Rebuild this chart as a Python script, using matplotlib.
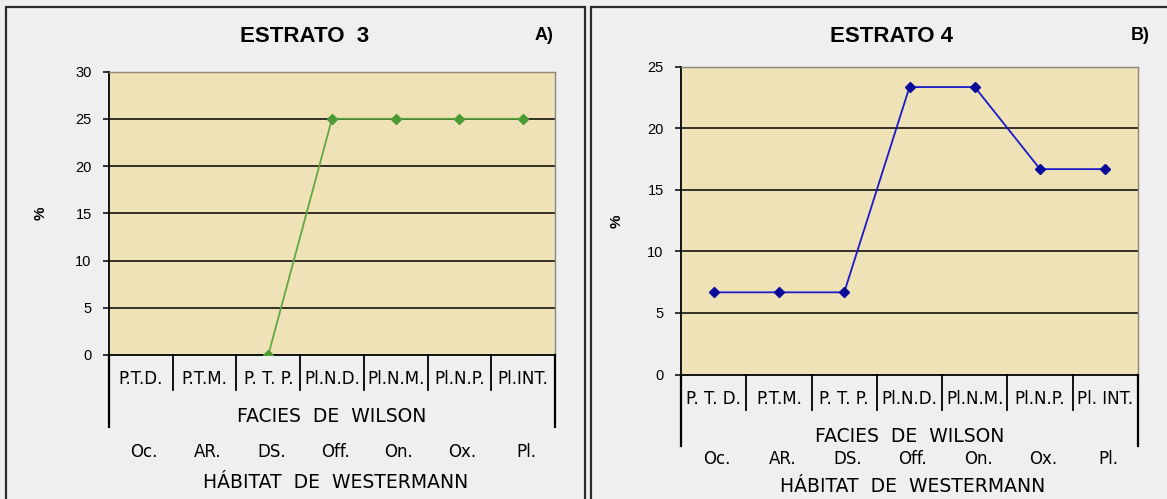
import numpy as np
import matplotlib
matplotlib.use("Agg")
import matplotlib.pyplot as plt
import matplotlib.transforms as mtransforms
from matplotlib.lines import Line2D
from matplotlib.patches import Rectangle

# data
facies_a = ["P.T.D.", "P.T.M.", "P. T. P.", "Pl.N.D.", "Pl.N.M.", "Pl.N.P.", "Pl.INT."]
facies_b = ["P. T. D.", "P.T.M.", "P. T. P.", "Pl.N.D.", "Pl.N.M.", "Pl.N.P.", "Pl. INT."]
habitat = ["Oc.", "AR.", "DS.", "Off.", "On.", "Ox.", "Pl."]
estrato3 = [np.nan, np.nan, 0, 25, 25, 25, 25]
estrato4 = [6.67, 6.67, 6.67, 23.33, 23.33, 16.67, 16.67]
yticks_a = [0, 5, 10, 15, 20, 25, 30]
yticks_b = [0, 5, 10, 15, 20, 25]

W, H = 1167, 499
BG = "#EFEFEF"
FACE = "#EFE2B6"

fig = plt.figure(figsize=(W / 100, H / 100), dpi=100, facecolor=BG)


def fx(x):
    return x / W


def fy(y):
    return 1 - y / H


def panel(box, ax_px, values, labels, yticks, color, mcolor, title, tag,
          title_x, tag_x, pct_xy, rows):
    # outer frame of the panel
    x0, y0, x1, y1 = box
    fig.add_artist(Rectangle((fx(x0), fy(y1)), fx(x1 - x0), (y1 - y0) / H,
                             transform=fig.transFigure, fill=False,
                             edgecolor="#2b2b2b", lw=1.6, clip_on=False))

    l, t, r, b = ax_px
    ax = fig.add_axes([fx(l), fy(b), fx(r - l), (b - t) / H])
    ax.set_facecolor(FACE)
    n = len(labels)
    x = np.arange(n)
    ax.set_xlim(-0.5, n - 0.5)
    ax.set_ylim(yticks[0], yticks[-1])
    ax.set_yticks(yticks)
    ax.set_xticks([])
    for yv in yticks[1:-1]:
        ax.axhline(yv, color="black", lw=1.1, zorder=1)
    ax.plot(x, values, color=color, lw=1.3, marker="D", ms=5,
            mfc=mcolor, mec=mcolor, zorder=3)

    for s in ("top", "right"):
        ax.spines[s].set_color("#8e867a")
        ax.spines[s].set_linewidth(1.0)
    for s in ("left", "bottom"):
        ax.spines[s].set_color("black")
        ax.spines[s].set_linewidth(1.3)
    ax.tick_params(axis="y", length=4, width=1.1, pad=8.5, labelsize=10.5)
    for lab in ax.get_yticklabels():
        lab.set_family(["Liberation Sans", "DejaVu Sans"])

    # category axis below the plot
    tr = mtransforms.blended_transform_factory(ax.transData, fig.transFigure)
    div_y, outer_y, lab_y, fac_y, hab_y, west_y = rows
    for xb in np.arange(n - 1) + 0.5:
        fig.add_artist(Line2D([xb, xb], [fy(b), fy(div_y)], transform=tr,
                              color="black", lw=1.3))
    for xb in (-0.5, n - 0.5):
        fig.add_artist(Line2D([xb, xb], [fy(b), fy(outer_y)], transform=tr,
                              color="black", lw=1.6))
    for xi, lab in zip(x, labels):
        fig.text(xi, fy(lab_y), lab, transform=tr, ha="center", va="center",
                 fontsize=12, family="DejaVu Sans")
    for xi, lab in zip(x, habitat):
        fig.text(xi + 0.05, fy(hab_y), lab, transform=tr, ha="center",
                 va="center", fontsize=12, family="DejaVu Sans")
    mid = (n - 1) / 2
    fig.text(mid, fy(fac_y), "FACIES  DE  WILSON", transform=tr,
             ha="center", va="center", fontsize=13.5, family="DejaVu Sans")
    fig.text(mid + 0.05, fy(west_y), "HÁBITAT  DE  WESTERMANN", transform=tr,
             ha="center", va="center", fontsize=13.5, family="DejaVu Sans")

    fig.text(fx(title_x), fy(37), title, ha="center", va="center",
             fontsize=16, fontweight="bold", family="Liberation Sans")
    fig.text(fx(tag_x), fy(36), tag, ha="center", va="center",
             fontsize=13, fontweight="bold", family="Liberation Sans")
    fig.text(fx(pct_xy[0]), fy(pct_xy[1]), "%", ha="center", va="center",
             rotation=90, fontsize=11, fontweight="bold",
             family="Liberation Sans")
    return ax


panel((6, 7, 585, 520), (109, 71.5, 555, 355), estrato3, facies_a, yticks_a,
      "#62A842", "#4E9A34", "ESTRATO  3", "A)", 305, 544, (41, 213),
      (390, 427, 379, 416, 452, 482))

panel((591, 7, 1190, 520), (681, 66.5, 1138, 374.5), estrato4, facies_b,
      yticks_b, "#1A1AC8", "#0A0A9A", "ESTRATO 4", "B)", 891, 1140,
      (617, 221), (410, 446, 399, 436, 459, 486))

fig.savefig("out.png", dpi=100, facecolor=BG)
